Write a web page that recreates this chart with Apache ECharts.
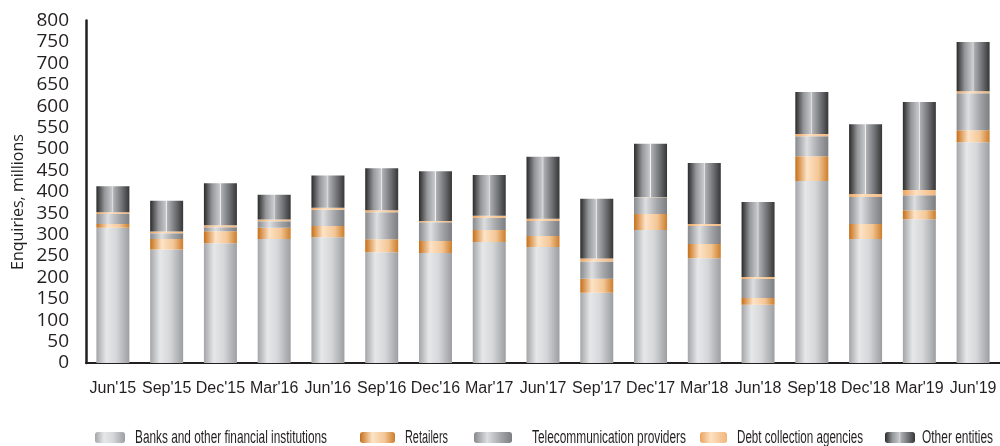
<!DOCTYPE html>
<html><head><meta charset="utf-8">
<script src="https://cdn.jsdelivr.net/npm/echarts@6/dist/echarts.min.js"></script>
<style>html,body{margin:0;padding:0;background:#fff}#c{width:1000px;height:446px}</style>
</head><body><div id="c"></div>
<script>
const categories = ["Jun'15","Sep'15","Dec'15","Mar'16","Jun'16","Sep'16","Dec'16","Mar'17","Jun'17","Sep'17","Dec'17","Mar'18","Jun'18","Sep'18","Dec'18","Mar'19","Jun'19"];
const banks     = [316, 265, 280, 290, 294, 259, 257, 283, 271, 164, 311, 245, 136, 425, 290, 336, 516];
const retailers = [9, 25, 28, 26, 26, 30, 28, 28, 26, 33, 37, 33, 16, 58, 35, 21, 28];
const telecom   = [23, 13, 9, 15, 38, 63, 44, 28, 35, 40, 39, 42, 44, 47, 63, 35, 86];
const debt      = [4, 4, 5, 4, 5, 5, 3, 5, 5, 7, 1, 5, 5, 5, 7, 12, 5];
const other     = [61, 72, 98, 58, 75, 98, 116, 95, 145, 140, 124, 142, 175, 98, 163, 206, 115];
const seriesNames = ["Banks and other financial institutions","Retailers","Telecommunication providers","Debt collection agencies","Other entities"];

function grad(stops){return {type:'linear',x:0,y:0,x2:1,y2:0,colorStops:stops.map(s=>({offset:s[0],color:s[1]}))};}
const colors = [
  grad([[0,'#a4a5a8'],[0.3,'#e6e7e8'],[0.6,'#d6d7d9'],[1,'#9d9ea1']]),
  grad([[0,'#c66f18'],[0.35,'#fde3c6'],[0.7,'#f3c797'],[1,'#cc7e2c']]),
  grad([[0,'#88898c'],[0.35,'#dddee0'],[0.7,'#a5a6a9'],[1,'#7d7e81']]),
  grad([[0,'#eba35f'],[0.4,'#fde1c3'],[1,'#f0b67c']]),
  grad([[0,'#2a2a2a'],[0.25,'#96979a'],[0.48,'#c8c9cb'],[0.5,'#f4f4f4'],[0.52,'#b0b1b4'],[0.8,'#6a6b6e'],[1,'#363636']])
];
const dataSets = [banks, retailers, telecom, debt, other];

const series = dataSets.map((d,i)=>({
  name: seriesNames[i], type:'bar', stack:'total', data:d, barWidth:33,
  itemStyle:{color:colors[i]}, emphasis:{disabled:true}
}));

// legend layout: icon left, icon width, text left, text width (px)
const legendLayout = [[95,30,135,192],[360,35,405,43],[474,38,532,154],[700,27,737,126],[885,30,922,71]];
const legends = seriesNames.map((n,i)=>({
  data:[n], left:legendLayout[i][0], top:432, padding:0, itemWidth:legendLayout[i][1], itemHeight:11,
  formatter:()=>'', selectedMode:false
}));

const legendFont = "18px 'Liberation Sans', Arial, sans-serif";
const mctx = document.createElement('canvas').getContext('2d');
mctx.font = legendFont;
const legendTexts = seriesNames.map((n,i)=>{
  const w = mctx.measureText(n).width;
  return {type:'text', x:legendLayout[i][2], y:438, scaleX:legendLayout[i][3]/w, scaleY:1,
    style:{text:n, font:legendFont, fill:'#231f20', textAlign:'left', textVerticalAlign:'middle'}};
});

const chart = echarts.init(document.getElementById('c'), null, {renderer:'canvas'});
chart.setOption({
  animation:false,
  grid:{left:86, right:-3, top:20.6, bottom:83},
  legend: legends,
  xAxis:{type:'category', data:categories,
    axisLine:{lineStyle:{color:'#231f20', width:2}}, axisTick:{show:false},
    axisLabel:{fontFamily:"'Liberation Sans', Arial, sans-serif", fontSize:16, color:'#231f20', margin:18, interval:0, hideOverlap:false}},
  yAxis:{type:'value', min:0, max:800, interval:50,
    axisLine:{show:true, lineStyle:{color:'#231f20', width:2.5}}, axisTick:{show:false},
    splitLine:{show:false},
    axisLabel:{fontFamily:"'Open Sans',sans-serif", fontSize:19, color:'#231f20', margin:17}},
  graphic:[{type:'text', x:18, y:202, rotation:Math.PI/2,
    style:{text:'Enquiries, millions', font:"16px 'Open Sans',sans-serif", fill:'#231f20', textAlign:'center', textVerticalAlign:'middle'}}].concat(legendTexts),
  series: series
});
</script></body></html>
